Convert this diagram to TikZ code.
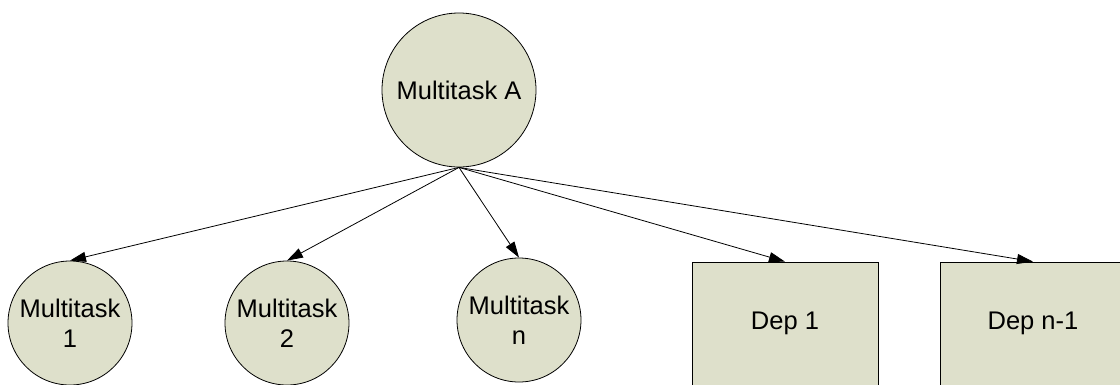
\documentclass[tikz,border=0pt]{standalone}
\usepackage{fontspec}
\setmainfont{Liberation Sans}
\usetikzlibrary{arrows.meta}
\definecolor{taskfill}{RGB}{222,224,203}
\tikzset{
  labelfont/.style={font=\fontsize{25.5}{30}\selectfont},
  task/.style={circle, draw=black, line width=0.8pt, fill=taskfill, inner sep=0pt,
    align=center, labelfont},
  bigtask/.style={task, minimum size=154pt},
  subtask/.style={task, minimum size=124pt},
  % boxes run past the lower edge; the caption sits above the box centre
  depbox/.style={rectangle, draw=black, line width=0.8pt, fill=taskfill, inner sep=0pt,
    minimum width=186pt, minimum height=140pt,
    label={[labelfont, yshift=9pt]center:#1}},
  link/.style={draw=black, line width=0.8pt, -{Triangle[length=16pt,width=10pt]}}
}
\begin{document}
\begin{tikzpicture}[x=1pt,y=-1pt]
  \useasboundingbox (0,0) rectangle (1120,384);
  % parent task
  \node[bigtask] (A) at (459,90) {Multitask A};
  % child tasks and dependencies
  \node[subtask] (m1) at (70,323) {Multitask\\1};
  \node[subtask] (m2) at (287,323) {Multitask\\2};
  \node[subtask] (mn) at (519,320) {Multitask\\n};
  \node[depbox={Dep 1}] (d1) at (785,332) {};
  \node[depbox={Dep n-1}] (dn) at (1033,332) {};
  % links from the parent
  \foreach \t in {m1,m2,mn,d1,dn}
    \draw[link] (A.south) -- (\t.north);
\end{tikzpicture}
\end{document}
